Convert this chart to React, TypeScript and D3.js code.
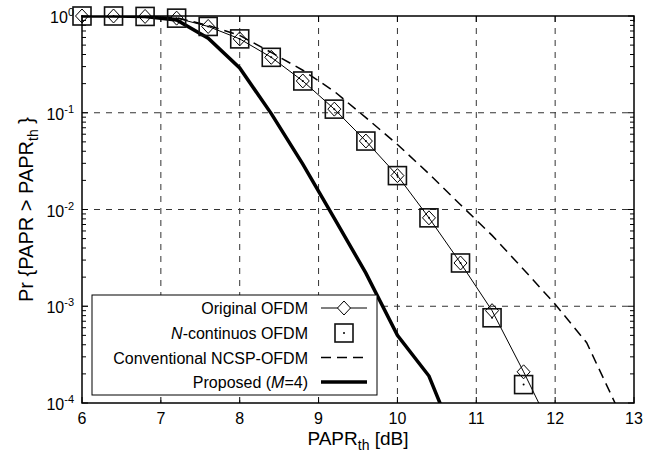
import React, { useEffect, useRef } from 'react';
import * as d3 from 'd3';

// PAPR threshold grid (dB), markers every 0.4 dB
const papr = [6, 6.4, 6.8, 7.2, 7.6, 8, 8.4, 8.8, 9.2, 9.6, 10, 10.4, 10.8, 11.2, 11.6, 12];
const paprConv = [6, 6.4, 6.8, 7.2, 7.6, 8, 8.4, 8.8, 9.2, 9.6, 10, 10.4, 10.8, 11.2, 11.6, 12, 12.4, 12.8];
const paprProp = [6, 6.4, 6.8, 7.2, 7.6, 8, 8.4, 8.8, 9.2, 9.6, 10, 10.4, 10.8];

const originalOFDM = [1.0, 1.0, 0.99, 0.95, 0.78, 0.58, 0.374, 0.213, 0.109, 0.051, 0.0224, 0.0082, 0.0028, 0.0009, 0.00021, 0.000045];
const nContinuous = [1.0, 1.0, 0.99, 0.95, 0.78, 0.58, 0.374, 0.213, 0.109, 0.051, 0.0224, 0.0082, 0.0028, 0.00076, 0.000155];
const conventional = [1.0, 1.0, 0.99, 0.96, 0.8, 0.63, 0.42, 0.275, 0.166, 0.089, 0.047, 0.0234, 0.0112, 0.0054, 0.0024, 0.00105, 0.00042, 0.000085];
const proposed = [1.0, 1.0, 0.99, 0.91, 0.59, 0.29, 0.098, 0.0295, 0.0081, 0.0022, 0.0005, 0.00019, 0.00003];

const xTicks = [6, 7, 8, 9, 10, 11, 12, 13];
const yTicks = [1e-4, 1e-3, 1e-2, 1e-1, 1];
const yExponents = ['-4', '-3', '-2', '-1', '0'];

const FONT = 'Liberation Sans, Arial, Helvetica, sans-serif';

const App = () => {
    const ref = useRef<SVGSVGElement>(null);

    useEffect(() => {
        const width = 665;
        const height = 455;
        const left = 82, right = 634, top = 16, bottom = 403;

        const svg = d3.select(ref.current)
            .attr('width', width)
            .attr('height', height);
        svg.selectAll('*').remove();

        const xScale = d3.scaleLinear().domain([6, 13]).range([left, right]);
        const yScale = d3.scaleLog().domain([1e-4, 1]).range([bottom, top]);

        svg.append('defs').append('clipPath')
            .attr('id', 'plotclip')
            .append('rect')
            .attr('x', left).attr('y', top)
            .attr('width', right - left).attr('height', bottom - top);

        svg.append('rect')
            .attr('width', width).attr('height', height)
            .attr('fill', 'white');

        // grid
        const grid = svg.append('g')
            .attr('stroke', '#333')
            .attr('stroke-width', 1)
            .attr('stroke-dasharray', '6,6');
        grid.selectAll('.vgrid')
            .data(xTicks.slice(1, -1))
            .join('line')
            .attr('x1', d => xScale(d)).attr('x2', d => xScale(d))
            .attr('y1', top).attr('y2', bottom);
        grid.selectAll('.hgrid')
            .data(yTicks.slice(1, -1))
            .join('line')
            .attr('x1', left).attr('x2', right)
            .attr('y1', d => yScale(d)).attr('y2', d => yScale(d));

        // ticks
        const ticks = svg.append('g').attr('stroke', 'black').attr('stroke-width', 1);
        xTicks.forEach(t => {
            ticks.append('line').attr('x1', xScale(t)).attr('x2', xScale(t)).attr('y1', bottom).attr('y2', bottom - 6);
            ticks.append('line').attr('x1', xScale(t)).attr('x2', xScale(t)).attr('y1', top).attr('y2', top + 6);
        });
        const minor: number[] = [];
        for (let e = -4; e < 0; e++) {
            for (let m = 2; m <= 9; m++) minor.push(m * Math.pow(10, e));
        }
        minor.forEach(v => {
            ticks.append('line').attr('x1', left).attr('x2', left + 4).attr('y1', yScale(v)).attr('y2', yScale(v));
            ticks.append('line').attr('x1', right).attr('x2', right - 4).attr('y1', yScale(v)).attr('y2', yScale(v));
        });
        yTicks.forEach(v => {
            ticks.append('line').attr('x1', left).attr('x2', left + 6).attr('y1', yScale(v)).attr('y2', yScale(v));
            ticks.append('line').attr('x1', right).attr('x2', right - 6).attr('y1', yScale(v)).attr('y2', yScale(v));
        });

        // tick labels
        svg.append('g').selectAll('text')
            .data(xTicks)
            .join('text')
            .attr('x', d => xScale(d))
            .attr('y', bottom + 21)
            .attr('text-anchor', 'middle')
            .attr('font-family', FONT)
            .attr('font-size', 16)
            .text(d => d);

        const yl = svg.append('g').selectAll('text')
            .data(yTicks)
            .join('text')
            .attr('x', 74)
            .attr('y', d => yScale(d) + 7)
            .attr('text-anchor', 'end')
            .attr('font-family', FONT)
            .attr('font-size', 16);
        yl.append('tspan').text('10');
        yl.append('tspan').attr('dy', -7).attr('font-size', 11).text((d, i) => yExponents[i]);

        // curves
        const plot = svg.append('g').attr('clip-path', 'url(#plotclip)');
        const line = d3.line<[number, number]>()
            .x(d => xScale(d[0]))
            .y(d => yScale(d[1]));

        const zip = (xs: number[], ys: number[]) => ys.map((y, i) => [xs[i], y] as [number, number]);
        const inRange = (d: [number, number]) => d[1] >= 1e-4;

        plot.append('path')
            .datum(zip(paprConv, conventional))
            .attr('d', line)
            .attr('fill', 'none')
            .attr('stroke', 'black')
            .attr('stroke-width', 1.5)
            .attr('stroke-dasharray', '10,6');

        plot.append('path')
            .datum(zip(paprProp, proposed))
            .attr('d', line)
            .attr('fill', 'none')
            .attr('stroke', 'black')
            .attr('stroke-width', 3.5);

        plot.append('path')
            .datum(zip(papr, originalOFDM))
            .attr('d', line)
            .attr('fill', 'none')
            .attr('stroke', 'black')
            .attr('stroke-width', 1);

        const diamond = (cx: number, cy: number) =>
            `M${cx},${cy - 7}L${cx + 6.5},${cy}L${cx},${cy + 7}L${cx - 6.5},${cy}Z`;

        // markers are not clipped (they overhang the frame at 10^0)
        const marks = svg.append('g');
        marks.selectAll('.dia')
            .data(zip(papr, originalOFDM).filter(inRange))
            .join('path')
            .attr('d', d => diamond(xScale(d[0]), yScale(d[1])))
            .attr('fill', 'none')
            .attr('stroke', 'black')
            .attr('stroke-width', 1);

        const sq = marks.selectAll('.sq')
            .data(zip(papr, nContinuous).filter(inRange))
            .join('g');
        sq.append('rect')
            .attr('x', d => xScale(d[0]) - 9)
            .attr('y', d => yScale(d[1]) - 9)
            .attr('width', 18).attr('height', 18)
            .attr('fill', 'none')
            .attr('stroke', '#111')
            .attr('stroke-width', 1.6);
        sq.append('circle')
            .attr('cx', d => xScale(d[0]))
            .attr('cy', d => yScale(d[1]))
            .attr('r', 1)
            .attr('fill', 'black');

        // frame
        svg.append('rect')
            .attr('x', left).attr('y', top)
            .attr('width', right - left).attr('height', bottom - top)
            .attr('fill', 'none')
            .attr('stroke', 'black')
            .attr('stroke-width', 1.5);

        // legend
        const lg = svg.append('g');
        lg.append('rect')
            .attr('x', 92).attr('y', 295)
            .attr('width', 285).attr('height', 100)
            .attr('fill', 'white')
            .attr('stroke', 'black')
            .attr('stroke-width', 1);
        const rows = [308, 333, 357.5, 382];
        const labels: [string, string, string][] = [
            ['', 'Original OFDM', ''],
            ['N', '-continuos OFDM', ''],
            ['', 'Conventional NCSP-OFDM', ''],
            ['Proposed (', 'M', '=4)'],
        ];
        labels.forEach((lab, i) => {
            const t = lg.append('text')
                .attr('x', 308).attr('y', rows[i] + 6)
                .attr('text-anchor', 'end')
                .attr('font-family', FONT)
                .attr('font-size', 16);
            if (i === 1) {
                t.append('tspan').attr('font-style', 'italic').text(lab[0]);
                t.append('tspan').text(lab[1]);
            } else if (i === 3) {
                t.append('tspan').text(lab[0]);
                t.append('tspan').attr('font-style', 'italic').text(lab[1]);
                t.append('tspan').text(lab[2]);
            } else {
                t.text(lab[1]);
            }
        });
        const lx1 = 321, lx2 = 367, lxm = 344;
        lg.append('line').attr('x1', lx1).attr('x2', lx2).attr('y1', rows[0]).attr('y2', rows[0])
            .attr('stroke', 'black').attr('stroke-width', 1);
        lg.append('path').attr('d', diamond(lxm, rows[0])).attr('fill', 'white').attr('stroke', 'black');
        lg.append('rect').attr('x', lxm - 9).attr('y', rows[1] - 9).attr('width', 18).attr('height', 18)
            .attr('fill', 'none').attr('stroke', '#111').attr('stroke-width', 1.6);
        lg.append('circle').attr('cx', lxm).attr('cy', rows[1]).attr('r', 1).attr('fill', 'black');
        lg.append('line').attr('x1', lx1).attr('x2', lx2).attr('y1', rows[2]).attr('y2', rows[2])
            .attr('stroke', 'black').attr('stroke-width', 1.5).attr('stroke-dasharray', '10,6');
        lg.append('line').attr('x1', lx1).attr('x2', lx2).attr('y1', rows[3]).attr('y2', rows[3])
            .attr('stroke', 'black').attr('stroke-width', 3.5);

        // axis labels
        const xl = svg.append('text')
            .attr('x', (left + right) / 2)
            .attr('y', 445)
            .attr('text-anchor', 'middle')
            .attr('font-family', FONT)
            .attr('font-size', 19);
        xl.append('tspan').text('PAPR');
        xl.append('tspan').attr('dy', 5).attr('font-size', 14).text('th');
        xl.append('tspan').attr('dy', -5).text(' [dB]');

        const ylab = svg.append('text')
            .attr('transform', `translate(33, ${(top + bottom) / 2}) rotate(-90)`)
            .attr('text-anchor', 'middle')
            .attr('font-family', FONT)
            .attr('font-size', 20);
        ylab.append('tspan').text('Pr {PAPR > PAPR');
        ylab.append('tspan').attr('dy', 5).attr('font-size', 14).text('th');
        ylab.append('tspan').attr('dy', -5).text(' }');
    }, []);

    return (
        <svg ref={ref} style={{ position: 'absolute', left: 0, top: 0 }}></svg>
    );
};

export default App;
